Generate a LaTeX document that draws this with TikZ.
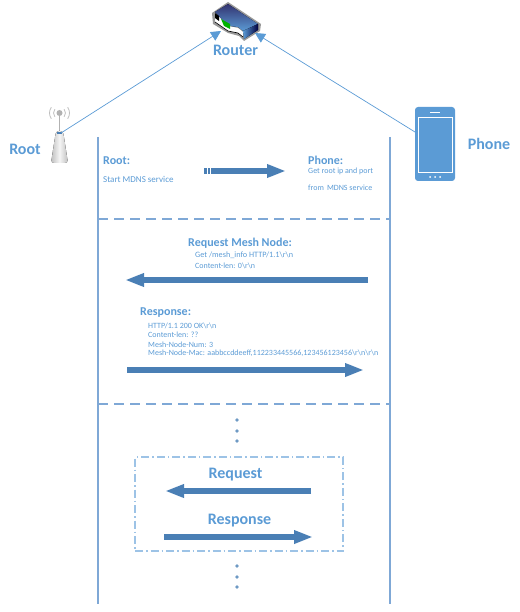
\documentclass[tikz,border=0pt]{standalone}
\usepackage{fontspec}
\setmainfont{Carlito}
\usepackage{xcolor}
\usetikzlibrary{arrows.meta, positioning}
\definecolor{meshblue}{HTML}{5B9BD5}
\definecolor{darkarrow}{HTML}{4A7FB5}
\definecolor{lifeline}{HTML}{7FA8D6}
\definecolor{boxline}{HTML}{9DC3E6}
\tikzstyle{title} = [inner sep=0pt, text=meshblue, font=\fontsize{16}{16}\selectfont\bfseries]
\tikzstyle{heading} = [inner sep=0pt, anchor=west, text=meshblue, font=\fontsize{12}{12}\selectfont\bfseries]
\tikzstyle{small} = [inner sep=0pt, anchor=west, text=meshblue, font=\fontsize{8}{8}\selectfont]
\tikzstyle{link} = [draw=meshblue, line width=0.7pt, -{Triangle[length=10pt,width=10pt]}]
\tikzstyle{life} = [draw=lifeline, line width=1.6pt]
\tikzstyle{divider} = [draw=lifeline, line width=1.2pt, dash pattern=on 10pt off 6pt]
\tikzstyle{bigarrow} = [draw=darkarrow, line width=5.5pt, -{Triangle[length=19pt,width=12.5pt]}]
\tikzstyle{dotmark} = [circle, fill=darkarrow!80, inner sep=0pt, minimum size=3.6pt]

\begin{document}
\begin{tikzpicture}[x=1pt, y=-1pt]
\useasboundingbox (0,0) rectangle (519,612);

% Router icon
\fill [black!40] (212,13) -- (228,2) -- (261,24) -- (260,31) -- (244,41) -- (239,36) -- (228,33) -- (213,24) -- cycle;
\fill [top color=black!70!blue!80!white, bottom color=meshblue] (215,12) -- (228,4) -- (258,24) -- (243,31) -- (238,27) -- (228,26) -- cycle;
\fill [left color=meshblue, right color=black!75!blue] (243,31) -- (258,24) -- (258,30) -- (244,39) -- cycle;
\fill [white] (215,13) -- (228,26) -- (238,28) -- (243,32) -- (243,37) -- (238,33) -- (228,31) -- (215,22) -- cycle;
\fill [green!70!black] (221,19) -- (230,24) -- (230,29) -- (224,26) -- cycle;
\fill [black] (215,13) -- (219,16) -- (219,21) -- (215,18) -- cycle;
\draw [black, line width=0.6pt] (215,22) -- (228,31) -- (238,33) -- (243,37);

% Root icon
\draw [black!25, line width=0.8pt] (59.5,113) ++(140:6) arc (140:220:6);
\draw [black!25, line width=0.8pt] (59.5,113) ++(145:10) arc (145:215:10);
\draw [black!25, line width=0.8pt] (59.5,113) ++(40:6) arc (40:-40:6);
\draw [black!25, line width=0.8pt] (59.5,113) ++(35:10) arc (35:-35:10);
\draw [black!30, line width=1.6pt] (59.5,113) -- (59.5,131);
\fill [black!30] (59.5,113) circle (3pt);
\fill [left color=black!25, right color=black!25, middle color=black!4, rounded corners=3pt] (56,131) -- (63,131) -- (68,163) -- (51,163) -- cycle;
\fill [darkarrow] (57,132) rectangle (62,134);

% Phone icon
\fill [meshblue, rounded corners=3pt] (415,107) rectangle (455,181);
\draw [white, line width=0.7pt] (418,117) rectangle (452,172);
\draw [white, line width=0.7pt] (430,112.5) -- (440,112.5);
\foreach \px in {430,435,440} \fill [white] (\px,177) circle (1pt);

% Named ends
\coordinate (rootant) at (61,133);
\coordinate (phoneedge) at (415,132);
\coordinate (routerleft) at (221,31);
\coordinate (routerright) at (255,33);
\node (router) [title] at (235.5,50) {Router};
\node (root) [title] at (25,149) {Root};
\node (phone) [title] at (489,144) {Phone};

\draw [link] (rootant) -- (routerleft);
\draw [link] (phoneedge) -- (routerright);

% Lifelines and dividers
\coordinate (lefttop) at (98,137);
\coordinate (leftend) at (98,604);
\coordinate (righttop) at (390,137);
\coordinate (rightend) at (390,604);
\coordinate (divastart) at (98,219);
\coordinate (divaend) at (390,219);
\coordinate (divbstart) at (98,404);
\coordinate (divbend) at (390,404);
\draw [life] (lefttop) -- (leftend);
\draw [life] (righttop) -- (rightend);
\draw [divider] (divastart) -- (divaend);
\draw [divider] (divbstart) -- (divbend);

% Discovery
\node (rootlabel) [heading] at (103,161) {Root:};
\node (startmdns) [small, font=\fontsize{9}{9}\selectfont] at (103,179) {Start MDNS service};
\node (phonelabel) [heading] at (308,160) {Phone:};
\node (getroot) [small] at (308,171.5) {Get root ip and port};
\node (frommdns) [small] at (308,188) {from \,MDNS service};
\coordinate (discstart) at (204,171);
\coordinate (discend) at (286,171);
\draw [bigarrow] (discstart) -- (discend);
\draw [white, line width=0.6pt] (207,168) -- (207,174);
\draw [white, line width=0.6pt] (210,168) -- (210,174);

% Mesh info exchange
\node (reqlabel) [heading] at (188,243) {Request Mesh Node:};
\node (reqget) [small, font=\fontsize{8.2}{9}\selectfont] at (195,255) {Get /mesh\_info HTTP/1.1\textbackslash r\textbackslash n};
\node (reqlen) [small] at (195,265.5) {Content-len: 0\textbackslash r\textbackslash n};
\coordinate (reqstart) at (368,280);
\coordinate (reqend) at (125,280);
\draw [bigarrow] (reqstart) -- (reqend);

\node (resplabel) [heading] at (140,313) {Response:};
\node (respline) [small] at (148,325.5) {HTTP/1.1 200 OK\textbackslash r\textbackslash n};
\node (resplen) [small] at (148,335) {Content-len: ??};
\node (respnum) [small] at (148,344.5) {Mesh-Node-Num: 3};
\node (respmac) [small] at (148,353.5) {Mesh-Node-Mac: aabbccddeeff,112233445566,123456123456\textbackslash r\textbackslash n\textbackslash r\textbackslash n};
\coordinate (respstart) at (127,370);
\coordinate (respend) at (364,370);
\draw [bigarrow] (respstart) -- (respend);

% Repeated requests
\foreach \dy in {420,431,441,566,577,587}
  \node [dotmark] at (237,\dy) {};
\node (loopbox) [draw=boxline, line width=1.1pt, dash pattern=on 8pt off 3pt on 1.5pt off 3pt, minimum width=208pt, minimum height=94pt, inner sep=0pt] at (239,504) {};
\node (looprequest) [title] at (235.5,475) {Request};
\node (loopresponse) [title] at (239.5,521) {Response};
\coordinate (loopreqstart) at (311,491);
\coordinate (loopreqend) at (165,491);
\coordinate (looprespstart) at (164,537);
\coordinate (looprespend) at (313,537);
\draw [bigarrow] (loopreqstart) -- (loopreqend);
\draw [bigarrow] (looprespstart) -- (looprespend);

\end{tikzpicture}
\end{document}
